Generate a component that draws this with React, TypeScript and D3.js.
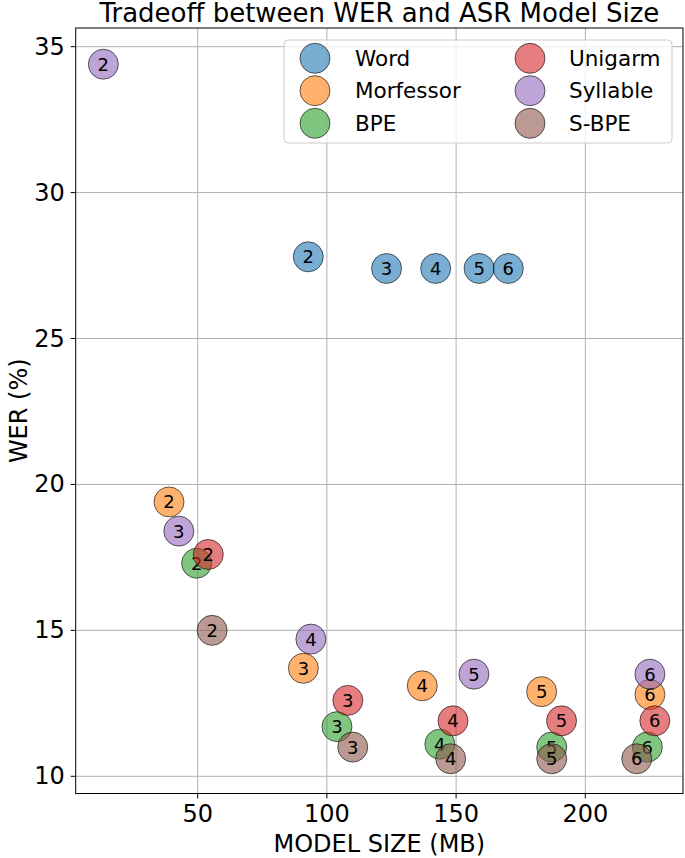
import React from "react";
import * as d3 from "d3";

const W = 685;
const H = 858;

const seriesNames = ["Word", "Morfessor", "BPE", "Unigarm", "Syllable", "S-BPE"];
const seriesColors = ["#1f77b4", "#ff7f0e", "#2ca02c", "#d62728", "#9467bd", "#8c564b"];
const pointLabels = ["2", "3", "4", "5", "6"];

const wordSize = [92.8, 123.1, 142.1, 158.9, 170.2];
const wordWER = [27.8, 27.4, 27.4, 27.4, 27.4];
const morfSize = [38.9, 90.9, 136.9, 183.1, 225.0];
const morfWER = [19.4, 13.7, 13.1, 12.9, 12.8];
const bpeSize = [49.6, 103.9, 143.7, 187.0, 224.0];
const bpeWER = [17.3, 11.7, 11.1, 11.0, 11.0];
const uniSize = [54.1, 108.1, 148.8, 190.8, 226.9];
const uniWER = [17.6, 12.6, 11.9, 11.9, 11.9];
const sylSize = [13.5, 42.7, 93.8, 156.9, 225.0];
const sylWER = [34.4, 18.4, 14.7, 13.5, 13.5];
const sbpeSize = [55.6, 110.0, 147.9, 187.0, 219.9];
const sbpeWER = [15.0, 11.0, 10.6, 10.6, 10.6];

const xTicks = [50, 100, 150, 200];
const yTicks = [10, 15, 20, 25, 30, 35];

const seriesData = [
  [wordSize, wordWER],
  [morfSize, morfWER],
  [bpeSize, bpeWER],
  [uniSize, uniWER],
  [sylSize, sylWER],
  [sbpeSize, sbpeWER],
];

const FONT = "DejaVu Sans, sans-serif";

export default function App() {
  const left = 75.7, right = 683, top = 28, bottom = 793.5;
  const x = d3.scaleLinear().domain([2.8, 237.8]).range([left, right]);
  const y = d3.scaleLinear().domain([9.41, 35.64]).range([bottom, top]);
  const r = 15;

  const legendX = 284, legendY = 40, legendW = 388, legendH = 103;
  const rowY = [58.3, 90.7, 123.3];
  const colMarker = [315, 530];
  const colText = [355, 569];

  return (
    <svg width={W} height={H} style={{ position: "absolute", left: 0, top: 0, background: "#fff" }} fontFamily={FONT}>
      <rect x={0} y={0} width={W} height={H} fill="#fff" />
      {/* grid */}
      {xTicks.map((t) => (
        <line key={"gx" + t} x1={x(t)} x2={x(t)} y1={top} y2={bottom} stroke="#b0b0b0" strokeWidth={1} />
      ))}
      {yTicks.map((t) => (
        <line key={"gy" + t} x1={left} x2={right} y1={y(t)} y2={y(t)} stroke="#b0b0b0" strokeWidth={1} />
      ))}
      {/* points */}
      {seriesData.map(([xs, ys], si) => (
        <g key={"s" + si}>
          {xs.map((xv, i) => (
            <g key={i}>
              <circle cx={x(xv)} cy={y(ys[i])} r={r} fill={seriesColors[si]} fillOpacity={0.6} stroke="#000" strokeOpacity={0.6} strokeWidth={1} />
              <text x={x(xv)} y={y(ys[i])} textAnchor="middle" dominantBaseline="central" fontSize={18} fill="#000">
                {pointLabels[i]}
              </text>
            </g>
          ))}
        </g>
      ))}
      {/* spines */}
      <rect x={left} y={top} width={right - left} height={bottom - top} fill="none" stroke="#000" strokeWidth={1} />
      {/* x ticks */}
      {xTicks.map((t) => (
        <g key={"xt" + t}>
          <line x1={x(t)} x2={x(t)} y1={bottom} y2={bottom + 5} stroke="#000" strokeWidth={1} />
          <text x={x(t)} y={821.5} textAnchor="middle" fontSize={24} fill="#000">{t}</text>
        </g>
      ))}
      {yTicks.map((t) => (
        <g key={"yt" + t}>
          <line x1={left - 5} x2={left} y1={y(t)} y2={y(t)} stroke="#000" strokeWidth={1} />
          <text x={left - 11} y={y(t)} textAnchor="end" dominantBaseline="central" fontSize={24} fill="#000">{t}</text>
        </g>
      ))}
      {/* axis labels */}
      <text x={(left + right) / 2} y={851.5} textAnchor="middle" fontSize={24} fill="#000">MODEL SIZE (MB)</text>
      <text transform={`translate(26.5, ${(top + bottom) / 2}) rotate(-90)`} textAnchor="middle" fontSize={24} fill="#000">WER (%)</text>
      {/* title */}
      <text x={(left + right) / 2} y={21.5} textAnchor="middle" fontSize={26} fill="#000">Tradeoff between WER and ASR Model Size</text>
      {/* legend */}
      <rect x={legendX} y={legendY} width={legendW} height={legendH} rx={4} fill="#fff" fillOpacity={0.8} stroke="#cccccc" strokeWidth={1} />
      {seriesNames.map((name, i) => {
        const col = Math.floor(i / 3);
        const row = i % 3;
        return (
          <g key={"lg" + i}>
            <circle cx={colMarker[col]} cy={rowY[row]} r={r} fill={seriesColors[i]} fillOpacity={0.6} stroke="#000" strokeOpacity={0.6} strokeWidth={1} />
            <text x={colText[col]} y={rowY[row]} dominantBaseline="central" fontSize={21.5} fill="#000">{name}</text>
          </g>
        );
      })}
    </svg>
  );
}
